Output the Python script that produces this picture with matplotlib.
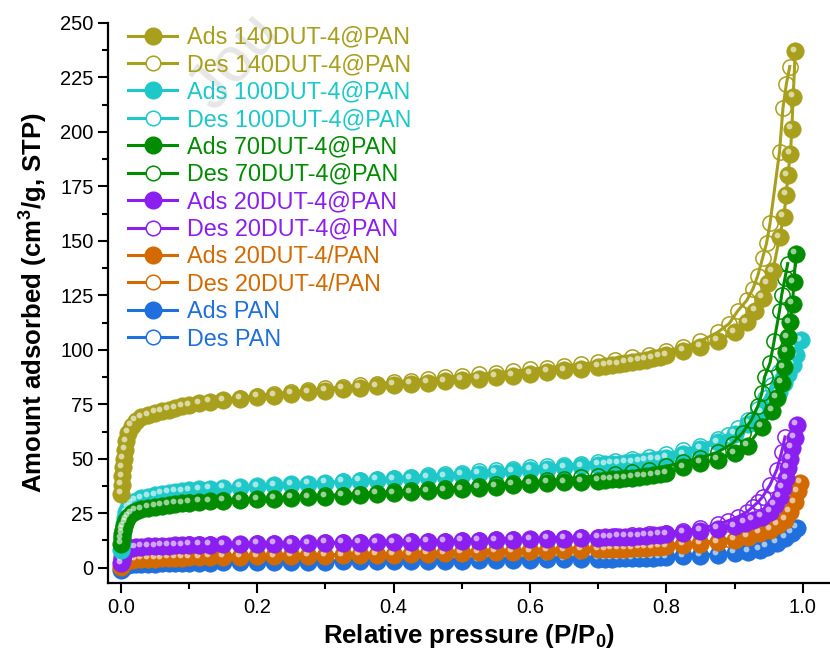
import matplotlib
matplotlib.use('Agg')
import matplotlib.pyplot as plt
from matplotlib.lines import Line2D
from matplotlib.ticker import MultipleLocator
from matplotlib.transforms import offset_copy

plt.rcParams['font.family'] = ['Liberation Sans', 'DejaVu Sans']
plt.rcParams['mathtext.fontset'] = 'custom'
plt.rcParams['mathtext.bf'] = 'Liberation Sans:bold'
plt.rcParams['mathtext.rm'] = 'Liberation Sans'

# ---------------------------------------------------------------- data
# shared relative pressure grid of the adsorption branch (up to 0.90)
p_ads = [0.0003, 0.001, 0.002, 0.003, 0.004, 0.006, 0.008, 0.011,
         0.016, 0.022, 0.03, 0.04, 0.05, 0.06, 0.07, 0.08, 0.09, 0.10,
         0.115, 0.13, 0.15, 0.175, 0.20, 0.225, 0.25, 0.275, 0.30,
         0.325, 0.35, 0.375, 0.40, 0.425, 0.45, 0.475, 0.50, 0.525,
         0.55, 0.575, 0.60, 0.625, 0.65, 0.675, 0.70, 0.71, 0.72, 0.73,
         0.74, 0.75, 0.76, 0.77, 0.78, 0.79, 0.80, 0.825, 0.85, 0.875,
         0.90]

# shared relative pressure grid of the desorption branch (below 0.90)
p_des = [0.875, 0.85, 0.825, 0.80, 0.775, 0.75, 0.725, 0.70, 0.675,
         0.65, 0.625, 0.60, 0.575, 0.55, 0.525, 0.50, 0.475, 0.45,
         0.425, 0.40, 0.375, 0.35, 0.325, 0.30, 0.275, 0.25, 0.225,
         0.20, 0.175, 0.15, 0.13, 0.115, 0.10]

# 140DUT-4@PAN
ads_140 = [34, 38, 42, 46, 50, 54, 58, 62, 65, 67.5, 69, 70, 71, 71.8,
           72.4, 73.2, 74, 74.6, 75.4, 76.1, 76.8, 77.6, 78.4, 79, 79.7,
           80.5, 81.3, 82, 82.7, 83.3, 84, 84.5, 85, 85.6, 86.2, 86.8,
           87.5, 88.2, 89, 89.8, 90.6, 91.4, 92.2, 92.6, 93, 93.4, 93.9,
           94.4, 94.9, 95.5, 96.1, 96.7, 97.4, 99.6, 101.5, 104, 108]
ads_140_tail_p = [0.918, 0.93, 0.941, 0.949, 0.956, 0.966, 0.972, 0.976,
                  0.978, 0.982, 0.984, 0.986, 0.989]
ads_140_tail = [112.6, 118, 124, 130.5, 136, 151.6, 161, 171, 180, 190,
                201.5, 216, 237]
des_140_head_p = [0.981, 0.976, 0.971, 0.966, 0.952, 0.947, 0.941, 0.934,
                  0.927, 0.918, 0.905, 0.892]
des_140_head = [230, 222, 211, 191, 158, 149, 142, 134, 128, 122.7, 118,
                112]
des_140 = [108, 104, 101.3, 99.5, 97.8, 96.5, 95.3, 94.3, 93.4, 92.6,
           91.8, 91, 90.2, 89.4, 88.7, 88, 87.3, 86.6, 85.9, 85.2, 84.5,
           83.8, 83, 82.3, 81.5, 80.7, 79.8, 79, 78, 77, 76.2, 75.5, 74.8]

# 100DUT-4@PAN
ads_100 = [8, 11, 14, 17, 20, 23, 25.5, 27.5, 29.5, 30.8, 31.8, 32.6,
           33.2, 33.8, 34.3, 34.7, 35.1, 35.5, 35.9, 36.2, 36.6, 37, 37.4,
           37.8, 38.2, 38.6, 39, 39.4, 39.8, 40.2, 40.6, 41, 41.5, 42,
           42.5, 43, 43.6, 44.2, 44.8, 45.4, 46, 46.6, 47.2, 47.4, 47.6,
           47.8, 48.1, 48.4, 48.7, 49, 49.4, 49.8, 50.3, 52, 54.5, 57.5,
           61.5]
ads_100_tail_p = [0.92, 0.94, 0.955, 0.965, 0.972, 0.978, 0.985, 0.99,
                  0.997]
ads_100_tail = [66, 71, 76, 80.5, 85, 89, 93, 97.5, 104.4]
des_100_head_p = [0.985, 0.975, 0.965, 0.955, 0.945, 0.935, 0.92, 0.905,
                  0.89]
des_100_head = [101, 96, 90, 84, 78, 73, 68, 64, 61]
des_100 = [59, 56, 54, 52.3, 51, 50, 49.2, 48.5, 47.8, 47.2, 46.6, 46,
           45.4, 44.8, 44.2, 43.6, 43, 42.4, 41.8, 41.2, 40.6, 40.1, 39.6,
           39.1, 38.6, 38.1, 37.6, 37.1, 36.6, 36.1, 35.7, 35.3, 35]

# 70DUT-4@PAN
ads_70 = [11, 13.5, 15.5, 17.5, 19, 20.5, 22, 23.5, 25, 26, 26.8, 27.5,
          28, 28.5, 28.9, 29.2, 29.5, 29.8, 30.2, 30.5, 30.8, 31.1, 31.4,
          31.7, 32, 32.3, 32.6, 33, 33.4, 33.8, 34.2, 34.6, 35, 35.5, 36,
          36.6, 37.2, 37.9, 38.4, 38.9, 39.2, 39.5, 39.9, 40.2, 40.5, 40.8,
          41.1, 41.4, 41.7, 42, 42.4, 42.8, 43.3, 46, 48, 49.5, 52.5]
ads_70_tail_p = [0.919, 0.94, 0.955, 0.962, 0.969, 0.972, 0.976, 0.978,
                 0.981, 0.985, 0.987, 0.99]
ads_70_tail = [56, 64.6, 72, 78, 85, 92, 99, 105.8, 112.6, 121, 131, 144]
des_70_head_p = [0.978, 0.974, 0.969, 0.966, 0.958, 0.952, 0.944, 0.94,
                 0.934, 0.925, 0.912, 0.897]
des_70_head = [139.6, 133, 125, 118, 104, 94, 87.5, 80, 74, 68, 62, 57]
des_70 = [53, 50.5, 48.5, 46.5, 45, 44, 43, 42.2, 41.5, 40.8, 40.1, 39.5,
          38.9, 38.3, 37.7, 37.1, 36.5, 36, 35.5, 35, 34.5, 34, 33.6, 33.2,
          32.8, 32.4, 32, 31.6, 31.2, 30.9, 30.6, 30.3, 30]

# 20DUT-4@PAN
ads_20 = [2, 3.5, 5, 6, 7, 7.8, 8.4, 8.9, 9.2, 9.4, 9.6, 9.8, 9.9, 10,
          10.1, 10.2, 10.3, 10.4, 10.5, 10.6, 10.7, 10.8, 10.9, 11, 11.1,
          11.2, 11.3, 11.4, 11.5, 11.6, 11.7, 11.8, 11.9, 12, 12.2, 12.4,
          12.6, 12.8, 13, 13.2, 13.4, 13.6, 13.8, 13.9, 14, 14.1, 14.2,
          14.3, 14.4, 14.6, 14.8, 15, 15.3, 16, 16.8, 17.8, 19]
ads_20_tail_p = [0.915, 0.927, 0.94, 0.952, 0.959, 0.966, 0.971, 0.976,
                 0.978, 0.981, 0.984, 0.988, 0.991]
ads_20_tail = [20.6, 22, 23.4, 25.6, 28.8, 32.5, 36.6, 41, 45.8, 50, 55,
               59.5, 65.5]
des_20_head_p = [0.974, 0.969, 0.962, 0.952, 0.941, 0.934, 0.927, 0.918,
                 0.905, 0.89]
des_20_head = [60, 53, 45, 38, 32.5, 30, 28, 25.6, 23.4, 21.5]
des_20 = [20, 18, 17, 16, 15.4, 15, 14.6, 14.3, 14, 13.8, 13.6, 13.4,
          13.2, 13, 12.8, 12.6, 12.4, 12.2, 12.1, 12, 11.9, 11.8, 11.7,
          11.6, 11.5, 11.4, 11.3, 11.2, 11.1, 11, 10.9, 10.8, 10.7]

# 20DUT-4/PAN
ads_20m = [0.5, 1.2, 1.8, 2.3, 2.7, 3, 3.3, 3.5, 3.7, 3.9, 4, 4.1, 4.2,
           4.3, 4.4, 4.5, 4.6, 4.7, 4.8, 4.9, 5, 5.1, 5.2, 5.3, 5.4, 5.5,
           5.6, 5.7, 5.8, 5.9, 6, 6.2, 6.4, 6.6, 6.8, 7, 7.2, 7.4, 7.6,
           7.8, 8, 8.2, 8.4, 8.5, 8.6, 8.7, 8.8, 8.9, 9, 9.2, 9.4, 9.6,
           9.8, 10.4, 11, 11.7, 12.8]
ads_20m_tail_p = [0.919, 0.937, 0.952, 0.963, 0.974, 0.981, 0.988, 0.993,
                  0.996]
ads_20m_tail = [14.2, 16, 17.4, 19.7, 22, 25.6, 30, 35, 39]
des_20m_head_p = [0.99, 0.985, 0.978, 0.97, 0.96, 0.95, 0.935, 0.92,
                  0.905, 0.89]
des_20m_head = [36, 32, 27.5, 24, 21, 19, 17, 15.5, 14.2, 13.2]
des_20m = [12.4, 11.6, 11, 10.4, 10, 9.6, 9.3, 9, 8.7, 8.5, 8.3, 8.1,
           7.9, 7.7, 7.5, 7.3, 7.1, 6.9, 6.7, 6.5, 6.3, 6.2, 6.1, 6, 5.9,
           5.8, 5.7, 5.6, 5.5, 5.4, 5.3, 5.2, 5.1]

# PAN
ads_pan = [-1, -0.5, 0, 0.3, 0.6, 0.9, 1.1, 1.3, 1.5, 1.6, 1.7, 1.8, 1.9,
           2, 2, 2.1, 2.1, 2.2, 2.3, 2.3, 2.4, 2.5, 2.5, 2.6, 2.7, 2.7,
           2.8, 2.9, 2.9, 3, 3.1, 3.1, 3.2, 3.3, 3.3, 3.4, 3.5, 3.6, 3.7,
           3.8, 3.9, 4, 4.1, 4.15, 4.2, 4.25, 4.3, 4.35, 4.4, 4.5, 4.6,
           4.7, 4.8, 5.2, 5.6, 6, 6.7]
ads_pan_tail_p = [0.92, 0.937, 0.947, 0.962, 0.974, 0.984, 0.991]
ads_pan_tail = [7.3, 8.2, 9.6, 11.4, 13.7, 16, 18.3]
des_pan_head_p = [0.985, 0.975, 0.96, 0.945, 0.93, 0.915, 0.9]
des_pan_head = [16.5, 14.5, 12, 10, 8.5, 7.5, 6.8]
des_pan = [6.3, 5.9, 5.5, 5.1, 4.9, 4.7, 4.6, 4.4, 4.3, 4.2, 4.1, 4.0,
           3.9, 3.8, 3.7, 3.6, 3.6, 3.5, 3.4, 3.4, 3.3, 3.2, 3.2, 3.1,
           3.0, 3.0, 2.9, 2.8, 2.8, 2.7, 2.6, 2.6, 2.5]

samples = ['140DUT-4@PAN', '100DUT-4@PAN', '70DUT-4@PAN', '20DUT-4@PAN',
           '20DUT-4/PAN', 'PAN']
colors = ['#a89f1c', '#1fc8c8', '#008c00', '#8a1ff0', '#d26a00', '#1f6fdc']
# stacking order of the curves (higher is drawn on top)
layers = [6, 4, 5, 3, 2, 1]

# ---------------------------------------------------------------- plot
fig = plt.figure(figsize=(8.3, 6.54), dpi=100)
ax = fig.add_axes([0.1301, 0.1086, 0.8699, 0.8563])

# small offset transform used for the shine spot on the filled spheres
shine = offset_copy(ax.transData, fig=fig, x=-1.8, y=1.9, units='points')

branches = [
    (ads_140_tail_p, ads_140_tail, des_140_head_p, des_140_head, ads_140, des_140),
    (ads_100_tail_p, ads_100_tail, des_100_head_p, des_100_head, ads_100, des_100),
    (ads_70_tail_p, ads_70_tail, des_70_head_p, des_70_head, ads_70, des_70),
    (ads_20_tail_p, ads_20_tail, des_20_head_p, des_20_head, ads_20, des_20),
    (ads_20m_tail_p, ads_20m_tail, des_20m_head_p, des_20m_head, ads_20m, des_20m),
    (ads_pan_tail_p, ads_pan_tail, des_pan_head_p, des_pan_head, ads_pan, des_pan),
]

handles = []
labels = []
for name, color, z, branch in zip(samples, colors, layers, branches):
    tail_p, tail_y, head_p, head_y, ads_y, des_y = branch
    x_ads = p_ads + tail_p
    y_ads = ads_y + tail_y
    x_des = head_p + p_des
    y_des = head_y + des_y

    # desorption: open circles
    ax.plot(x_des, y_des, '-', color=color, lw=2.2, marker='o', ms=11,
            mfc='none', mec=color, mew=1.1, zorder=z)
    # adsorption: filled spheres with a light spot
    ax.plot(x_ads, y_ads, '-', color=color, lw=2.2, marker='o', ms=12.5,
            mfc=color, mec=color, mew=0.5, zorder=z + 0.3)
    ax.plot(x_ads, y_ads, ls='none', marker='o', ms=4.2, mfc='white',
            mec='none', alpha=0.6, transform=shine, zorder=z + 0.4)

    handles.append(Line2D([], [], color=color, lw=2.2, marker='o', ms=12,
                          mfc=color, mec=color))
    handles.append(Line2D([], [], color=color, lw=2.2, marker='o', ms=10.5,
                          mfc='white', mec=color, mew=1.1))
    labels.append('Ads ' + name)
    labels.append('Des ' + name)

# faint watermark of the source document (only its first letters show)
ax.text(215 / 830, 1 - 112 / 654, 'Jou', transform=fig.transFigure,
        rotation=50, rotation_mode='anchor', ha='left', va='baseline',
        fontsize=46, color='#e6e6e6', zorder=0)

# axes setup
ax.set_xlim(-0.019, 1.04)
ax.set_ylim(-7, 250)
ax.xaxis.set_major_locator(MultipleLocator(0.2))
ax.xaxis.set_minor_locator(MultipleLocator(0.1))
ax.yaxis.set_major_locator(MultipleLocator(25))
ax.yaxis.set_minor_locator(MultipleLocator(12.5))
ax.xaxis.set_major_formatter(plt.FuncFormatter(lambda v, pos: '%.1f' % v))
ax.tick_params(which='major', direction='out', length=7, width=1.5,
               labelsize=14.5)
ax.tick_params(which='minor', direction='out', length=4, width=1.5)
for side in ['top', 'right']:
    ax.spines[side].set_visible(False)
for side in ['left', 'bottom']:
    ax.spines[side].set_linewidth(1.6)

ax.set_xlabel(r'Relative pressure (P/P$_\mathbf{0}$)', fontsize=18.5,
              fontweight='bold', labelpad=4)
ax.set_ylabel(r'Amount adsorbed (cm$^\mathbf{3}$/g, STP)', fontsize=18.5,
              fontweight='bold', labelpad=8)

leg = ax.legend(handles, labels, loc='upper left', bbox_to_anchor=(0.028, 0.995),
                frameon=False, fontsize=16.8, handlelength=2.1,
                handletextpad=0.4, labelspacing=0.19, borderpad=0,
                borderaxespad=0)
for txt, line in zip(leg.get_texts(), handles):
    txt.set_color(line.get_color())

fig.savefig('out.png', dpi=100)
